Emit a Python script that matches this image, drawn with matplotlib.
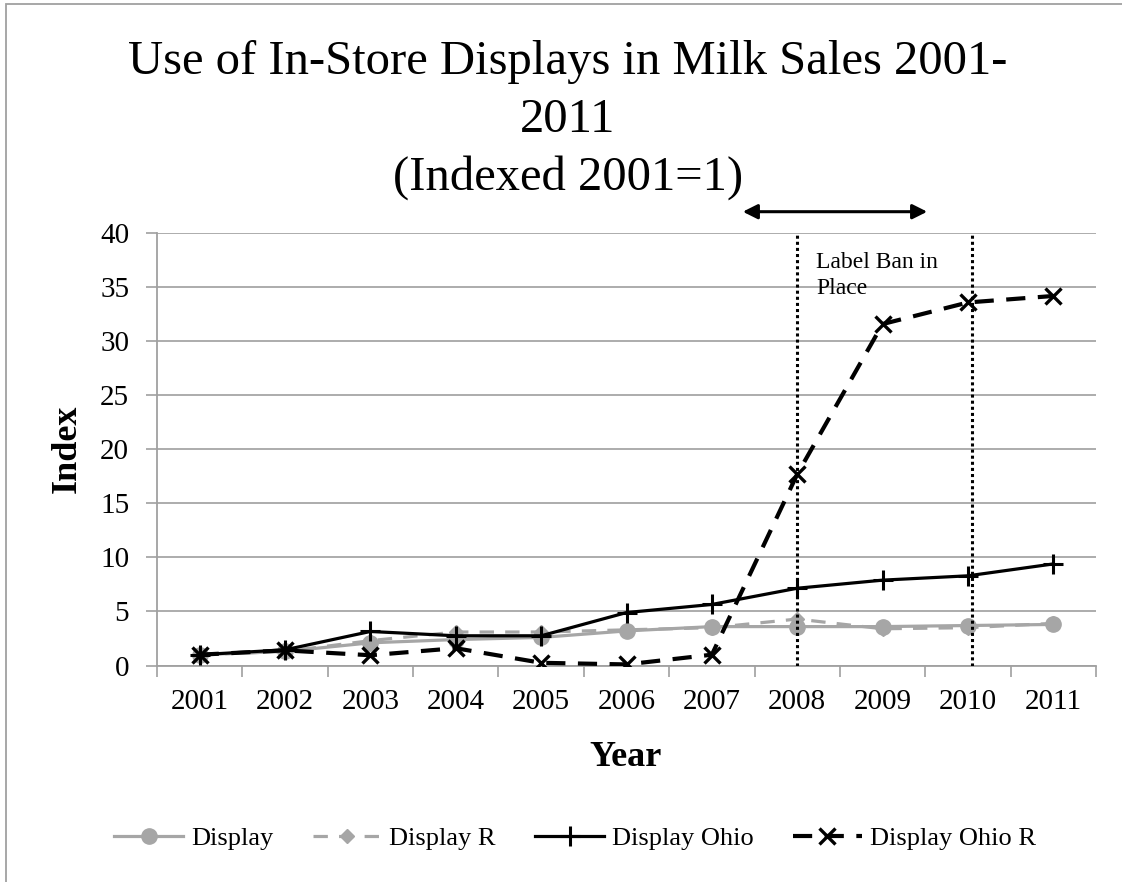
import matplotlib
matplotlib.use("Agg")
import matplotlib.pyplot as plt
from matplotlib.patches import Rectangle, FancyArrowPatch
import numpy as np

plt.rcParams['font.family'] = ['Liberation Serif', 'DejaVu Serif']

years = ['2001', '2002', '2003', '2004', '2005', '2006', '2007', '2008', '2009', '2010', '2011']
display = [1.0, 1.3, 2.1, 2.4, 2.6, 3.2, 3.6, 3.6, 3.6, 3.7, 3.8]
display_r = [1.0, 1.3, 2.3, 3.1, 3.1, 3.3, 3.5, 4.3, 3.4, 3.5, 3.9]
display_ohio = [1.0, 1.45, 3.15, 2.75, 2.75, 4.9, 5.65, 7.15, 7.9, 8.3, 9.4]
display_ohio_r = [1.0, 1.4, 0.95, 1.6, 0.25, 0.1, 1.0, 17.7, 31.6, 33.6, 34.2]
yticks = [0, 5, 10, 15, 20, 25, 30, 35, 40]

W, H = 1122, 882
fig = plt.figure(figsize=(W / 100, H / 100), dpi=100)

def fx(px):
    return px / W

def fy(py):
    return 1 - py / H

# figure border
fig.patches.append(Rectangle((fx(6), fy(1000)), fx(1200), fy(4) - fy(1000),
                             transform=fig.transFigure, fill=False,
                             edgecolor='#A0A0A0', linewidth=1.3))

ax = fig.add_axes([fx(157), fy(665.5), fx(1096) - fx(157), fy(233.3) - fy(665.5)])

x = np.arange(len(years))
gray = '#A6A6A6'

ax.plot(x, display, color=gray, lw=2.3, marker='o', ms=11, mec=gray, mfc=gray,
        label='Display', zorder=3)
ax.plot(x, display_r, color=gray, lw=2.3, dashes=(4.5, 3.5), marker='D', ms=7,
        mec=gray, mfc=gray, label='Display R', zorder=3)
ax.plot(x, display_ohio, color='black', lw=2.3, marker='+', ms=15, mew=2.2,
        label='Display Ohio', zorder=4)
ax.plot(x, display_ohio_r, color='black', lw=3.0, dashes=(4.6, 3.0), marker='x',
        ms=12, mew=2.4, label='Display Ohio R', zorder=4)

# vertical dotted markers of the label ban period
for xv in [7.0, 9.05]:
    ax.axvline(xv, color='black', lw=2.2, linestyle=(0, (1, 1)), zorder=5)

ax.text(7.22, 38.3, 'Label Ban in\nPlace', fontsize=17, va='top', ha='left',
        linespacing=1.35, zorder=6)

ax.set_xlim(-0.5, len(years) - 0.5)
ax.set_ylim(0, 40)
ax.set_yticks(yticks)
ax.set_yticklabels([str(v) for v in yticks], fontsize=21)
ax.set_xticks(np.arange(-0.5, len(years), 1.0))
ax.set_xticklabels([])
ax.set_xticks(x, minor=True)
ax.set_xticklabels(years, minor=True, fontsize=21)
ax.tick_params(axis='x', which='major', direction='out', length=8, width=1.2, color='#A0A0A0')
ax.tick_params(axis='x', which='minor', length=0, pad=17)
ax.tick_params(axis='y', direction='out', length=8, width=1.2, color='#A0A0A0', pad=12)
ax.yaxis.grid(True, color='#A6A6A6', lw=1.3)
ax.set_axisbelow(True)
for s in ['top', 'right']:
    ax.spines[s].set_visible(False)
for s in ['left', 'bottom']:
    ax.spines[s].set_color('#A0A0A0')
    ax.spines[s].set_linewidth(1.3)

# arrow above plot
arrow = FancyArrowPatch((fx(740), fy(211.7)), (fx(930), fy(211.7)), transform=fig.transFigure,
                        arrowstyle='<|-|>', mutation_scale=22, color='black', lw=2.2)
fig.patches.append(arrow)

# title
fig.text(fx(568), fy(74), 'Use of In-Store Displays in Milk Sales 2001-', fontsize=35,
         ha='center', va='baseline')
fig.text(fx(568), fy(132), '2011', fontsize=35, ha='center', va='baseline')
fig.text(fx(568), fy(190), '(Indexed 2001=1)', fontsize=35, ha='center', va='baseline')

fig.text(fx(67), fy(449), 'Index', fontsize=26, fontweight='bold', rotation=90,
         ha='center', va='center')
fig.text(fx(626), fy(757), 'Year', fontsize=26, fontweight='bold', ha='center', va='center')

fig.legend(loc='center', bbox_to_anchor=(fx(575), fy(838)), ncol=4, frameon=False,
           fontsize=19, handlelength=2.6, handletextpad=0.3, columnspacing=1.5)

fig.savefig('out.png', dpi=100)
